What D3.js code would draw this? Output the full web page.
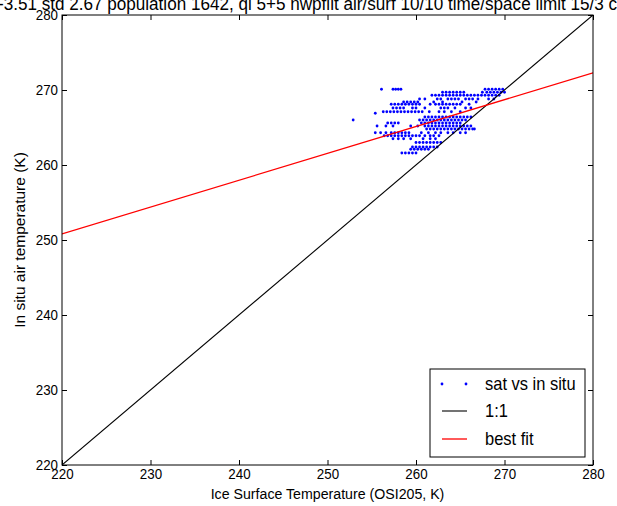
<!DOCTYPE html>
<html><head><meta charset="utf-8">
<script src="https://cdn.jsdelivr.net/npm/d3@7"></script>
<style>body{margin:0;background:#fff;}svg{display:block;font-family:"Liberation Sans",Arial,sans-serif;}</style>
</head><body><svg id="c" width="617" height="506"></svg>
<script>
const titleText = "-3.51 std 2.67 population 1642, qi 5+5 nwpfilt air/surf 10/10 time/space limit 15/3 c";
const xLabel = "Ice Surface Temperature (OSI205, K)";
const yLabel = "In situ air temperature (K)";
const xTicks = [220, 230, 240, 250, 260, 270, 280];
const yTicks = [220, 230, 240, 250, 260, 270, 280];
const oneToOne = [[220, 220], [280, 280]];
const bestFit = [[220, 250.8], [280, 272.3]];
const legendLabels = ["sat vs in situ", "1:1", "best fit"];
// scatter rows: in situ value and the satellite values at it
const rowY = [270.1, 269.7, 269.3, 268.8, 268.4, 268.1, 267.6, 267.1, 266.9, 266.4, 266.0, 265.6, 265.2, 264.8, 264.3, 263.9, 263.5, 263.0, 262.4, 262.1, 261.6];
const rowX = [
 [256.1, 257.4, 257.7, 258.0, 258.3, 267.8, 268.2, 268.6, 269.0, 269.4, 269.8],
 [263.0, 263.4, 263.8, 264.2, 264.6, 265.0, 265.4, 267.5, 268.0, 268.4, 268.8, 269.2, 269.6, 270.0],
 [261.8, 262.2, 262.6, 263.0, 263.4, 263.8, 264.2, 264.6, 265.0, 265.4, 265.8, 266.2, 266.6, 267.0, 267.4, 267.8, 268.2, 268.6, 269.0, 269.4],
 [260.4, 261.0, 262.4, 262.8, 263.6, 264.0, 264.4, 264.8, 265.6, 266.0, 266.4, 267.0, 268.2, 268.8],
 [258.6, 259.0, 259.4, 259.8, 260.2, 262.0, 263.0, 265.2, 266.8],
 [257.2, 257.6, 258.0, 258.4, 258.8, 259.2, 259.6, 260.0, 260.4, 261.6, 262.2, 262.6, 263.0, 263.4, 263.8, 264.2, 264.6, 265.0, 266.0],
 [257.4, 257.8, 258.2, 258.6, 259.6, 260.0, 261.0, 262.8, 263.2, 263.6, 264.4, 265.6, 266.2],
 [256.3, 256.7, 257.1, 257.5, 257.9, 258.3, 258.7, 259.1, 259.5, 259.9, 260.3, 260.7, 261.5, 262.6, 263.2, 264.0, 265.0],
 [255.4],
 [261.0, 261.4, 261.8, 262.2, 262.6, 263.0, 263.4, 263.8, 264.2, 264.6, 265.0, 265.4, 265.8, 266.2],
 [252.9, 260.4, 260.8, 261.2, 261.6, 262.0, 262.4, 262.8, 263.2, 263.6, 264.0, 264.4, 264.8, 265.2, 265.6],
 [256.8, 257.2, 257.6, 258.0, 260.6, 261.0, 261.4, 261.8, 262.2, 262.6, 263.0, 263.4, 263.8, 264.2, 264.6, 265.0],
 [255.6, 256.6, 257.4, 259.4, 260.2, 261.0, 261.4, 261.8, 262.2, 262.6, 263.0, 263.4, 263.8, 264.2, 264.6, 265.0, 265.4, 265.8, 266.2],
 [261.2, 261.6, 262.0, 262.4, 262.8, 263.2, 263.6, 264.0, 264.4, 264.8, 265.2, 265.6, 266.0, 266.4, 266.6],
 [255.4, 256.0, 256.6, 257.2, 257.6, 258.0, 258.4, 258.8, 259.2, 260.6, 261.4, 262.2, 262.8, 263.6, 264.2, 265.0, 265.6],
 [256.4, 256.8, 257.2, 257.6, 258.0, 258.4, 258.8, 259.2, 259.6, 260.0, 260.4, 261.0, 261.6, 262.0, 262.6],
 [257.4, 258.0, 258.6, 259.4, 260.8, 261.6, 262.2],
 [260.0, 260.4, 260.8, 261.2, 261.6, 262.0, 262.4, 262.8],
 [259.6, 260.0, 260.4, 260.8, 261.2, 261.6, 262.0, 262.4],
 [259.4, 259.8, 260.2, 260.6, 261.0, 261.4],
 [258.4, 258.8, 259.2, 259.6, 260.0]
];

const SX = 0.915; // horizontal squeeze of the reference's glyphs
const svg = d3.select("#c");
const L = 62, R = 593, T = 15, B = 465;
const x = d3.scaleLinear().domain([220, 280]).range([L, R]);
const y = d3.scaleLinear().domain([220, 280]).range([B, T]);

const pts = [];
rowY.forEach((yy, i) => rowX[i].forEach(xx => pts.push([xx, yy])));

const g = svg.append("g");
g.append("defs").append("clipPath").attr("id", "clip")
  .append("rect").attr("x", L).attr("y", T).attr("width", R - L).attr("height", B - T);
const plot = g.append("g").attr("clip-path", "url(#clip)");
plot.selectAll("circle").data(pts).enter().append("circle")
  .attr("cx", d => x(d[0])).attr("cy", d => y(d[1])).attr("r", 1.4).attr("fill", "#0000ff");
const line = d3.line().x(d => x(d[0])).y(d => y(d[1]));
plot.append("path").attr("d", line(oneToOne)).attr("stroke", "#000").attr("stroke-width", 1.1).attr("fill", "none");
plot.append("path").attr("d", line(bestFit)).attr("stroke", "#ff0000").attr("stroke-width", 1.3).attr("fill", "none");

// axes with inward ticks
const axB = d3.axisBottom(x).tickValues(xTicks).tickSizeInner(-5).tickSizeOuter(0).tickPadding(4);
const axL = d3.axisLeft(y).tickValues(yTicks).tickSizeInner(-5).tickSizeOuter(0).tickPadding(4);
const axT = d3.axisTop(x).tickValues(xTicks).tickSizeInner(-5).tickSizeOuter(0).tickFormat("");
const axR = d3.axisRight(y).tickValues(yTicks).tickSizeInner(-5).tickSizeOuter(0).tickFormat("");
const styleAx = s => { s.selectAll("path").remove(); s.selectAll("line").attr("stroke", "#000");
  s.selectAll("text").attr("fill", "#000").style("font-size", "14.6px").style("font-family", "Liberation Sans, Arial, sans-serif"); };
g.append("g").attr("transform", `translate(0,${B})`).call(axB).call(styleAx)
  .selectAll("text").attr("transform", `scale(${SX},1)`);
g.append("g").attr("transform", `translate(${L},0)`).call(axL).call(styleAx)
  .selectAll("text").attr("x", -4 / SX).attr("transform", `scale(${SX},1)`);
g.append("g").attr("transform", `translate(0,${T})`).call(axT).call(styleAx);
g.append("g").attr("transform", `translate(${R},0)`).call(axR).call(styleAx);
g.append("rect").attr("x", L).attr("y", T).attr("width", R - L).attr("height", B - T)
  .attr("fill", "none").attr("stroke", "#000").attr("stroke-width", 1);

svg.append("text").attr("transform", `translate(${(L + R) / 2},499) scale(${SX},1)`).attr("text-anchor", "middle")
  .style("font-size", "15.5px").text(xLabel);
svg.append("text").attr("transform", `translate(25,${(T + B) / 2}) rotate(-90) scale(1,${SX})`).attr("text-anchor", "middle")
  .style("font-size", "15.5px").text(yLabel);
svg.append("text").attr("transform", `translate(-2,9.5) scale(${SX},1)`).attr("text-anchor", "start")
  .style("font-size", "18.7px").text(titleText);

// legend
const lg = svg.append("g");
lg.append("rect").attr("x", 430).attr("y", 369).attr("width", 155).attr("height", 88)
  .attr("fill", "#fff").attr("stroke", "#000").attr("stroke-width", 1);
const rows = [384, 411, 439];
[442, 466].forEach(cx => lg.append("circle").attr("cx", cx).attr("cy", rows[0]).attr("r", 1.4).attr("fill", "#0000ff"));
lg.append("line").attr("x1", 442).attr("x2", 467).attr("y1", rows[1]).attr("y2", rows[1]).attr("stroke", "#000").attr("stroke-width", 1.1);
lg.append("line").attr("x1", 442).attr("x2", 467).attr("y1", rows[2]).attr("y2", rows[2]).attr("stroke", "#ff0000").attr("stroke-width", 1.3);
legendLabels.forEach((t, i) => lg.append("text").attr("transform", `translate(485,${rows[i]}) scale(${SX},1)`).attr("dy", "0.35em")
  .style("font-size", "18px").text(t));
</script></body></html>
